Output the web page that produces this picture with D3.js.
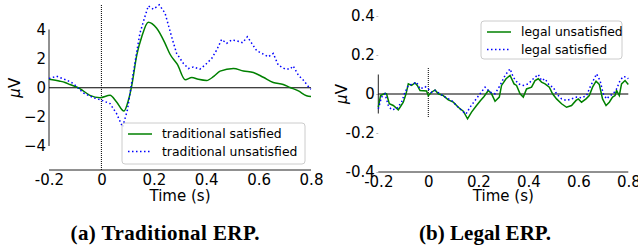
<!DOCTYPE html>
<html>
<head>
<meta charset="utf-8">
<script src="https://cdn.jsdelivr.net/npm/d3@7"></script>
<style>
    body { margin: 0; background: #fff; }
    svg { display: block; }
    text { font-family: "DejaVu Sans", sans-serif; fill: #000; }
    .caption { font-family: "Liberation Serif", serif; font-weight: bold; }
</style>
</head>
<body>
<div id="canvas"></div>
<script>
// Time ticks shared by both panels
var timeTicks = [-0.2, 0, 0.2, 0.4, 0.6, 0.8];

// (a) Traditional ERP, values in microvolts
var tradSatisfiedTime = [-0.2, -0.158, -0.139, -0.12, -0.082, -0.044, -0.005, 0.033, 0.058, 0.086, 0.103, 0.116, 0.135, 0.154, 0.179, 0.211, 0.243, 0.262, 0.29, 0.32, 0.345, 0.37, 0.402, 0.43, 0.453, 0.504, 0.542, 0.58, 0.618, 0.656, 0.694, 0.72, 0.752, 0.783, 0.8];
var tradSatisfied = [0.59, 0.45, 0.36, 0.22, -0.06, -0.52, -0.68, -0.52, -0.98, -1.6, -0.86, 0.17, 2.24, 3.5, 4.5, 4.08, 3.05, 2.3, 1.6, 0.55, 0.7, 0.58, 0.5, 0.8, 1.14, 1.32, 1.15, 1.05, 0.72, 0.36, 0.22, 0.02, -0.22, -0.55, -0.6];
var tradUnsatisfiedTime = [-0.2, -0.171, -0.132, -0.107, -0.069, -0.031, 0.001, 0.033, 0.058, 0.081, 0.099, 0.116, 0.135, 0.147, 0.166, 0.179, 0.198, 0.221, 0.243, 0.268, 0.287, 0.313, 0.332, 0.351, 0.376, 0.395, 0.421, 0.44, 0.459, 0.478, 0.497, 0.516, 0.539, 0.557, 0.574, 0.593, 0.618, 0.637, 0.656, 0.675, 0.701, 0.72, 0.732, 0.752, 0.771, 0.796, 0.8];
var tradUnsatisfied = [0.63, 0.79, 0.52, 0.29, -0.36, -0.68, -0.86, -1.09, -1.78, -2.7, -1.55, 0.4, 2.47, 3.74, 4.88, 5.62, 5.39, 5.69, 5.12, 3.5, 2.36, 1.67, 1.32, 1.43, 1.28, 1.55, 2.01, 2.59, 3.32, 3.05, 3.28, 3.23, 3.09, 3.5, 3.05, 2.54, 2.31, 2.12, 2.36, 1.55, 1.28, 1.28, 1.5, 0.86, 0.52, -0.06, -0.1];
var tradYTicks = [4, 2, 0, -2, -4];

// (b) Legal ERP
var legalUnsatisfiedTime = [-0.2, -0.191, -0.173, -0.167, -0.156, -0.14, -0.12, -0.113, -0.1, -0.089, -0.08, -0.067, -0.053, -0.044, -0.033, -0.007, 0.0, 0.013, 0.027, 0.04, 0.06, 0.08, 0.1, 0.12, 0.14, 0.157, 0.173, 0.193, 0.209, 0.223, 0.24, 0.253, 0.267, 0.284, 0.293, 0.311, 0.327, 0.343, 0.353, 0.367, 0.38, 0.393, 0.413, 0.427, 0.44, 0.453, 0.467, 0.484, 0.497, 0.513, 0.533, 0.553, 0.573, 0.591, 0.6, 0.613, 0.631, 0.644, 0.657, 0.671, 0.684, 0.697, 0.711, 0.724, 0.737, 0.747, 0.753, 0.764, 0.773, 0.787, 0.8];
var legalUnsatisfied = [-0.068, -0.008, 0.004, 0.001, -0.05, -0.059, -0.081, -0.068, -0.042, 0.001, 0.052, 0.044, 0.057, 0.044, 0.018, 0.015, -0.008, 0.009, 0.021, 0.001, -0.008, -0.03, -0.042, -0.068, -0.088, -0.127, -0.093, -0.059, -0.033, -0.013, 0.018, 0.001, -0.037, -0.016, 0.044, 0.078, 0.095, 0.052, 0.044, 0.001, -0.016, 0.026, 0.035, 0.069, 0.078, 0.061, 0.052, 0.035, 0.001, -0.025, -0.05, -0.068, -0.059, -0.033, -0.025, -0.042, -0.025, -0.008, 0.035, 0.066, 0.049, -0.025, -0.059, -0.042, -0.016, -0.008, 0.018, -0.008, 0.052, 0.069, 0.049];
var legalSatisfiedTime = [-0.2, -0.187, -0.173, -0.16, -0.147, -0.127, -0.107, -0.093, -0.08, -0.06, -0.047, -0.033, -0.013, 0.0, 0.013, 0.027, 0.047, 0.073, 0.093, 0.113, 0.133, 0.151, 0.167, 0.187, 0.207, 0.227, 0.247, 0.267, 0.287, 0.307, 0.327, 0.34, 0.36, 0.38, 0.4, 0.42, 0.44, 0.453, 0.467, 0.484, 0.5, 0.513, 0.533, 0.553, 0.573, 0.593, 0.613, 0.633, 0.647, 0.66, 0.673, 0.687, 0.7, 0.713, 0.727, 0.74, 0.753, 0.767, 0.78, 0.793, 0.8];
var legalSatisfied = [-0.076, -0.016, 0.001, -0.059, -0.081, -0.076, -0.042, 0.009, 0.044, 0.052, 0.061, 0.026, 0.038, 0.026, 0.009, 0.018, 0.001, -0.02, -0.033, -0.059, -0.085, -0.102, -0.068, -0.033, 0.001, 0.035, 0.009, 0.001, 0.044, 0.095, 0.129, 0.086, 0.052, 0.044, 0.052, 0.078, 0.1, 0.069, 0.078, 0.044, 0.035, 0.001, -0.025, -0.033, -0.025, -0.016, -0.02, -0.008, 0.035, 0.069, 0.103, 0.069, 0.001, -0.025, -0.008, 0.001, 0.026, 0.069, 0.09, 0.086, 0.078];
var legalYTicks = [0.4, 0.2, 0, -0.2, -0.4];

var svg = d3.select('#canvas').append('svg')
    .attr('width', 638)
    .attr('height', 249);

// Draws one ERP panel. Spines are trimmed by hand like the original.
var drawPanel = function(p) {
    var x = d3.scaleLinear().domain([-0.2, 0.8]).range(p.xRange);
    var y = d3.scaleLinear().domain(p.yDomain).range(p.yRange);
    var g = svg.append('g');

    // x axis (labels only, spine drawn separately)
    var xAxis = g.append('g')
        .attr('transform', 'translate(0,' + p.bottom + ')')
        .call(d3.axisBottom(x).tickValues(timeTicks).tickSize(0).tickPadding(4.5)
            .tickFormat(function(d) { return d === 0 ? '0' : String(d); }));
    xAxis.select('.domain').remove();
    xAxis.selectAll('text').style('font-size', '15px').style('font-family', '"DejaVu Sans", sans-serif');

    var yAxis = g.append('g')
        .attr('transform', 'translate(' + p.xRange[0] + ',0)')
        .call(d3.axisLeft(y).tickValues(p.yTicks).tickSize(p.yTickSize).tickPadding(p.yTickPad)
            .tickFormat(p.yFormat));
    yAxis.select('.domain').remove();
    yAxis.selectAll('line').attr('stroke', '#bbb');
    yAxis.selectAll('text').style('font-size', '15px').style('font-family', '"DejaVu Sans", sans-serif');

    // spines
    g.append('line')
        .attr('x1', p.xRange[0]).attr('x2', p.xRange[1])
        .attr('y1', p.bottom).attr('y2', p.bottom)
        .attr('stroke', '#222').attr('stroke-width', 1);
    g.append('line')
        .attr('x1', p.xRange[0]).attr('x2', p.xRange[0])
        .attr('y1', y(p.spine[0])).attr('y2', y(p.spine[1]))
        .attr('stroke', '#222').attr('stroke-width', 1);

    // zero line and stimulus onset
    g.append('line')
        .attr('x1', x(-0.2)).attr('x2', x(0.8))
        .attr('y1', y(0)).attr('y2', y(0))
        .attr('stroke', '#000').attr('stroke-width', 1.2);
    g.append('line')
        .attr('x1', x(0)).attr('x2', x(0))
        .attr('y1', p.onset[0]).attr('y2', p.onset[1])
        .attr('stroke', '#000').attr('stroke-width', 1)
        .attr('stroke-dasharray', '1,1');

    // series
    p.series.forEach(function(s) {
        var pts = s.time.map(function(t, i) { return [t, s.values[i]]; });
        g.append('path')
            .datum(pts)
            .attr('fill', 'none')
            .attr('stroke', s.color)
            .attr('stroke-width', 1.5)
            .attr('stroke-dasharray', s.dash)
            .attr('d', d3.line()
                .curve(s.curve)
                .x(function(d) { return x(d[0]); })
                .y(function(d) { return y(d[1]); }));
    });

    // y label
    var yl = g.append('text')
        .attr('transform', 'translate(' + p.yLabelX + ',' + y(0) + ') rotate(-90)')
        .attr('text-anchor', 'middle')
        .attr('dy', '0.35em')
        .style('font-size', '15px');
    yl.append('tspan').style('font-style', 'italic').text('\u03bc');
    yl.append('tspan').text('V');

    // x label
    g.append('text')
        .attr('x', (p.xRange[0] + p.xRange[1]) / 2)
        .attr('y', 201)
        .attr('text-anchor', 'middle')
        .style('font-size', '15px')
        .text('Time (s)');

    // legend
    var lg = g.append('g');
    lg.append('rect')
        .attr('x', p.legend.x).attr('y', p.legend.y)
        .attr('width', p.legend.w).attr('height', p.legend.h)
        .attr('rx', 3)
        .attr('fill', '#fff').attr('fill-opacity', 0.8)
        .attr('stroke', '#ccc');
    p.series.forEach(function(s, i) {
        var ly = p.legend.y + 11 + i * 17.5;
        lg.append('line')
            .attr('x1', p.legend.x + 6).attr('x2', p.legend.x + 30)
            .attr('y1', ly).attr('y2', ly)
            .attr('stroke', s.color).attr('stroke-width', 1.5)
            .attr('stroke-dasharray', s.dash);
        lg.append('text')
            .attr('x', p.legend.x + 40).attr('y', ly)
            .attr('dy', '0.35em')
            .style('font-size', '12.4px')
            .text(s.name);
    });

    // caption
    svg.append('text')
        .attr('class', 'caption')
        .attr('x', p.captionX)
        .attr('y', 240)
        .attr('text-anchor', 'middle')
        .attr('textLength', p.captionW)
        .attr('lengthAdjust', 'spacing')
        .style('font-size', '21px')
        .text(p.caption);
};

drawPanel({
    xRange: [49, 311], yDomain: [-4, 4], yRange: [146, 29.5], bottom: 170,
    yTicks: tradYTicks, yTickSize: 0, yTickPad: 3,
    yFormat: function(d) { return d < 0 ? '\u2212' + Math.abs(d) : String(d); },
    spine: [4, -4], onset: [5, 170], yLabelX: 15,
    legend: { x: 122, y: 123, w: 183, h: 41 },
    caption: '(a) Traditional ERP.', captionX: 165, captionW: 189,
    series: [
        { name: 'traditional satisfied', time: tradSatisfiedTime, values: tradSatisfied, color: '#008000', dash: null, curve: d3.curveMonotoneX },
        { name: 'traditional unsatisfied', time: tradUnsatisfiedTime, values: tradUnsatisfied, color: '#0000ff', dash: '1.5,2.5', curve: d3.curveLinear }
    ]
});

drawPanel({
    xRange: [378.3, 628.3], yDomain: [-0.4, 0.4], yRange: [172, 16], bottom: 172,
    yTicks: legalYTicks, yTickSize: 2, yTickPad: 1.5,
    yFormat: function(d) { return d === 0 ? '0' : String(d); },
    spine: [0.1, -0.1], onset: [68, 118], yLabelX: 342,
    legend: { x: 481, y: 21, w: 141, h: 38 },
    caption: '(b) Legal ERP.', captionX: 485, captionW: 132,
    series: [
        { name: 'legal unsatisfied', time: legalUnsatisfiedTime, values: legalUnsatisfied, color: '#008000', dash: null, curve: d3.curveLinear },
        { name: 'legal satisfied', time: legalSatisfiedTime, values: legalSatisfied, color: '#0000ff', dash: '1.5,2.5', curve: d3.curveLinear }
    ]
});
</script>
</body>
</html>
